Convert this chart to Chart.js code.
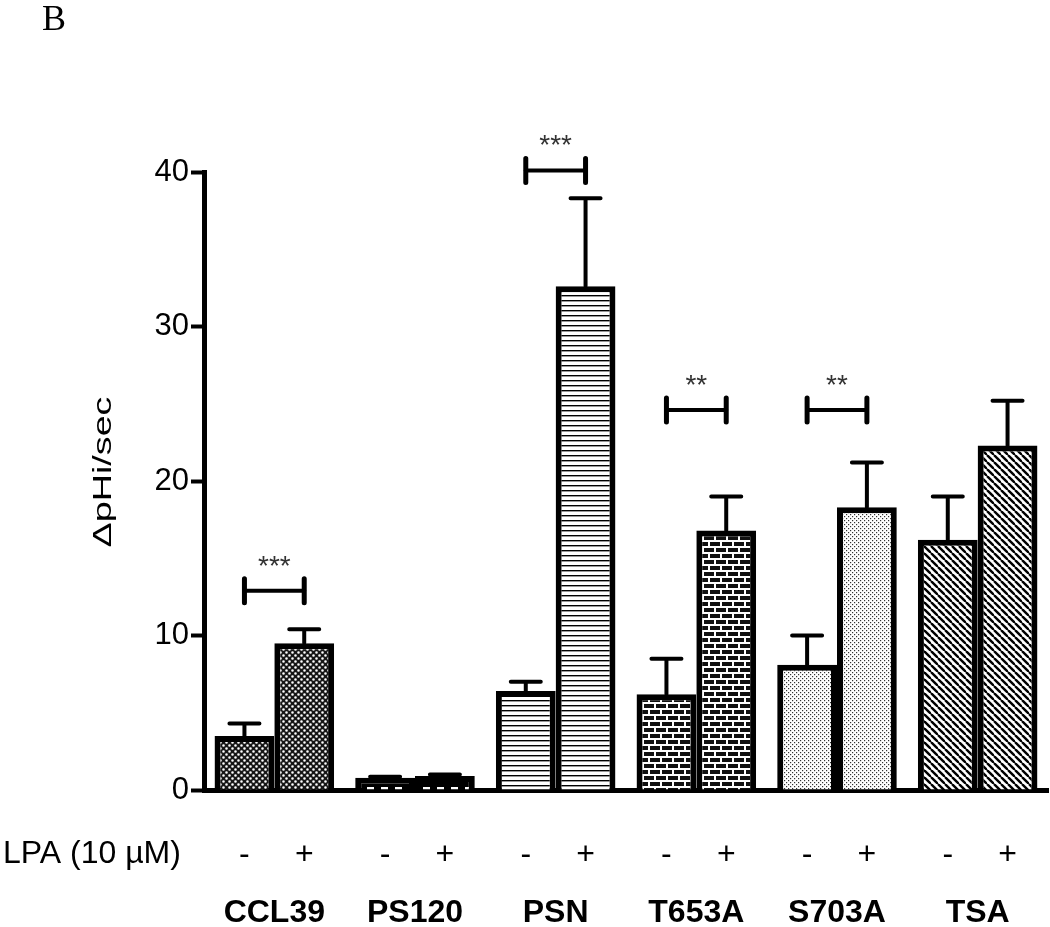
<!DOCTYPE html>
<html>
<head>
<meta charset="utf-8">
<script src="https://cdn.jsdelivr.net/npm/chart.js@4.4.1/dist/chart.umd.min.js"></script>
<style>
html,body{margin:0;padding:0;background:#fff}
#wrap{width:1050px;height:927px;position:relative}
</style>
</head>
<body>
<div id="wrap"><canvas id="c"></canvas></div>
<script>
const GROUPS=['CCL39','PS120','PSN','T653A','S703A','TSA'];
const MINUS_MEAN=[3.5,0.8,6.4,6.2,8.1,16.2];
const MINUS_SEM=[0.8,0.05,0.6,2.3,1.9,2.8];
const PLUS_MEAN=[9.5,0.9,32.6,16.8,18.3,22.3];
const PLUS_SEM=[0.9,0.1,5.7,2.2,2.9,2.9];
const Y_TICKS=[0,10,20,30,40];
const SIG_GROUPS=['CCL39','PSN','T653A','S703A'];
const SIG_Y=[12.9,40.1,24.6,24.6];
const SIG_TEXT=['***','***','**','**'];
const LPA_SIGNS=['-','+'];
const LPA_LABEL='LPA (10 µM)';
const Y_TITLE='ΔpHi/sec';
const PANEL='B';

const SANS="'Liberation Sans', Arial, sans-serif";
const canvas=document.getElementById('c');
const ctx0=canvas.getContext('2d');

function makePattern(w,h,draw){
  const c=document.createElement('canvas');
  c.width=w;c.height=h;
  const g=c.getContext('2d');
  draw(g,w,h);
  return ctx0.createPattern(c,'repeat');
}

// one fill per cell line, same for - and +
const PATTERNS=[
  makePattern(6,6,(g,w,h)=>{ // dense dots
    g.fillStyle='#161616';g.fillRect(0,0,w,h);
    g.fillStyle='#fff';
    g.beginPath();g.arc(1.5,1.5,1.3,0,Math.PI*2);g.arc(4.5,4.5,1.3,0,Math.PI*2);g.fill();
  }),
  makePattern(14,8,(g,w,h)=>{ // dashes
    g.fillStyle='#000';g.fillRect(0,0,w,h);
    g.fillStyle='#fff';g.fillRect(3,3,7,3);
  }),
  makePattern(4,5,(g,w,h)=>{ // horizontal lines
    g.fillStyle='#fff';g.fillRect(0,0,w,h);
    g.fillStyle='#000';g.fillRect(0,0,w,1.4);
  }),
  makePattern(12,12,(g,w,h)=>{ // bricks
    g.fillStyle='#111';g.fillRect(0,0,w,h);
    g.fillStyle='#fff';
    g.fillRect(0,0,w,2);g.fillRect(0,6,w,2);
    g.fillRect(0,0,2,6);g.fillRect(6,6,2,6);
  }),
  makePattern(4,4,(g,w,h)=>{ // light dots
    g.fillStyle='#fff';g.fillRect(0,0,w,h);
    g.fillStyle='#333';g.fillRect(0,0,1.2,1.2);g.fillRect(2,2,1.2,1.2);
  }),
  makePattern(7,7,(g,w,h)=>{ // diagonal stripes
    g.fillStyle='#fff';g.fillRect(0,0,w,h);
    g.strokeStyle='#000';g.lineWidth=2.4;
    [-w,0,w].forEach(o=>{g.beginPath();g.moveTo(o,0);g.lineTo(o+w,h);g.stroke();});
  })
];

const errorBars={
  id:'errorBars',
  afterDatasetsDraw(chart){
    const {ctx}=chart;
    const y=chart.scales.y;
    ctx.save();
    ctx.strokeStyle='#000';
    ctx.lineWidth=4;
    ctx.lineCap='round';
    chart.data.datasets.forEach((ds,di)=>{
      chart.getDatasetMeta(di).data.forEach((bar,i)=>{
        const top=y.getPixelForValue(ds.data[i]+ds.sem[i]);
        ctx.beginPath();
        ctx.moveTo(bar.x,bar.y);ctx.lineTo(bar.x,top);
        ctx.moveTo(bar.x-15,top);ctx.lineTo(bar.x+15,top);
        ctx.stroke();
      });
    });
    ctx.restore();
  }
};

const sigBrackets={
  id:'sigBrackets',
  afterDatasetsDraw(chart){
    const {ctx}=chart;
    const y=chart.scales.y;
    const m0=chart.getDatasetMeta(0).data, m1=chart.getDatasetMeta(1).data;
    ctx.save();
    SIG_GROUPS.forEach((g,k)=>{
      const i=GROUPS.indexOf(g);
      const x1=m0[i].x, x2=m1[i].x;
      const yy=y.getPixelForValue(SIG_Y[k]);
      ctx.strokeStyle='#000';
      ctx.lineCap='round';
      ctx.lineWidth=4;
      ctx.beginPath();ctx.moveTo(x1,yy);ctx.lineTo(x2,yy);ctx.stroke();
      ctx.lineWidth=5;
      ctx.beginPath();
      ctx.moveTo(x1,yy-12);ctx.lineTo(x1,yy+12);
      ctx.moveTo(x2,yy-12);ctx.lineTo(x2,yy+12);
      ctx.stroke();
      ctx.fillStyle='#333';
      ctx.font='28px '+SANS;
      ctx.textAlign='center';
      ctx.textBaseline='alphabetic';
      ctx.fillText(SIG_TEXT[k],(x1+x2)/2,yy-16);
    });
    ctx.restore();
  }
};

const extraText={
  id:'extraText',
  afterDraw(chart){
    const {ctx}=chart;
    ctx.save();
    ctx.fillStyle='#000';
    // panel letter
    ctx.font="36px 'Liberation Serif', 'Times New Roman', serif";
    ctx.textAlign='left';ctx.textBaseline='alphabetic';
    ctx.fillText(PANEL,42,30);
    // LPA row
    ctx.font='32px '+SANS;
    ctx.textBaseline='middle';
    ctx.fillText(LPA_LABEL,3,854);
    ctx.textAlign='center';
    chart.data.datasets.forEach((ds,di)=>{
      chart.getDatasetMeta(di).data.forEach(bar=>{
        ctx.fillText(LPA_SIGNS[di],bar.x,855);
      });
    });
    // y title
    ctx.translate(104,472);
    ctx.rotate(-Math.PI/2);
    ctx.scale(1.45,1);
    ctx.font='26px '+SANS;
    ctx.fillText(Y_TITLE,0,0);
    ctx.restore();
  }
};

new Chart(canvas,{
  type:'bar',
  data:{
    labels:GROUPS,
    datasets:[
      {label:'LPA -',data:MINUS_MEAN,sem:MINUS_SEM,backgroundColor:PATTERNS,borderColor:'#000',borderWidth:6},
      {label:'LPA +',data:PLUS_MEAN,sem:PLUS_SEM,backgroundColor:PATTERNS,borderColor:'#000',borderWidth:6}
    ]
  },
  options:{
    responsive:true,
    maintainAspectRatio:false,
    animation:false,
    categoryPercentage:0.85,
    barPercentage:1,
    layout:{padding:{top:172,right:2,left:0,bottom:0}},
    plugins:{legend:{display:false},tooltip:{enabled:false}},
    scales:{
      x:{
        grid:{display:false,drawTicks:false},
        border:{display:true,width:5,color:'#000'},
        ticks:{color:'#000',padding:3,maxRotation:0,autoSkip:false,font:{family:SANS,size:32,weight:'bold',lineHeight:7.5}},
        afterFit(s){s.height=137;}
      },
      y:{
        min:0,max:40,
        afterBuildTicks(s){s.ticks=Y_TICKS.map(v=>({value:v}));},
        grid:{drawOnChartArea:false,drawTicks:true,tickLength:13,tickWidth:4,tickColor:'#000'},
        border:{display:true,width:5,color:'#000'},
        ticks:{color:'#000',padding:2,font:{family:SANS,size:31}},
        afterFit(s){s.width=204;}
      }
    }
  },
  plugins:[errorBars,sigBrackets,extraText]
});
</script>
</body>
</html>
